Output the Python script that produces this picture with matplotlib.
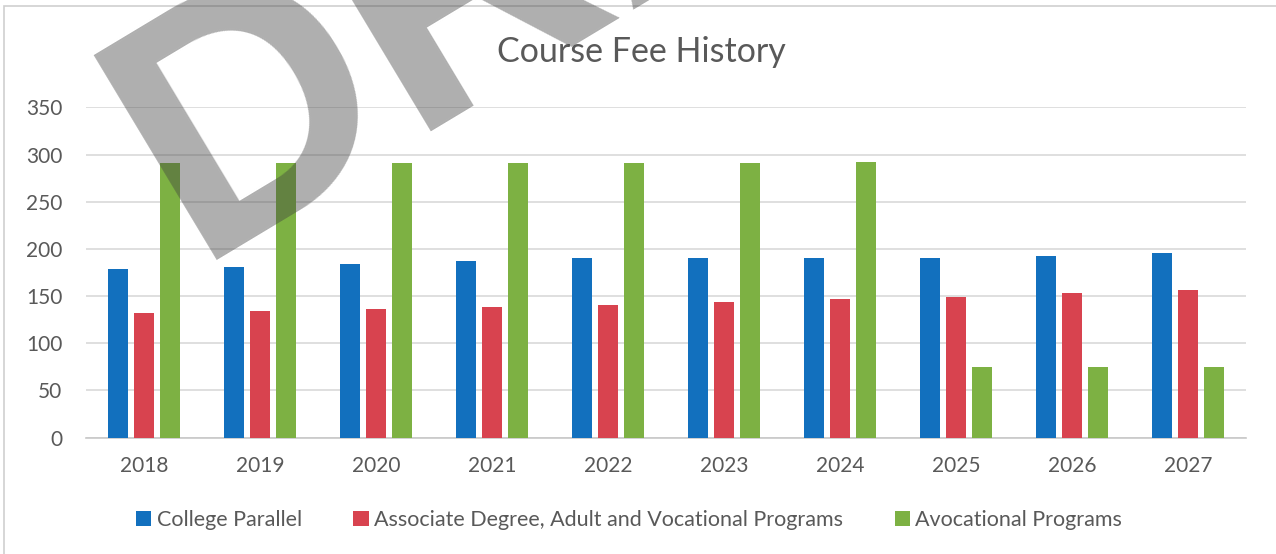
import numpy as np
import matplotlib
matplotlib.use('Agg')
import matplotlib.pyplot as plt
from matplotlib.patches import Patch, Rectangle

plt.rcParams['font.family'] = ['Lato', 'DejaVu Sans']

years = ['2018', '2019', '2020', '2021', '2022', '2023', '2024', '2025', '2026', '2027']
college_parallel = [179, 181, 184, 187, 190, 190, 190, 190, 193, 196]
associate_adult_voc = [132, 134, 136, 139, 141, 144, 147, 149, 153, 157]
avocational = [291, 291, 291, 291, 291, 291, 292, 75, 75, 75]

series_names = ['College Parallel',
                'Associate Degree, Adult and Vocational Programs',
                'Avocational Programs']
colors = ['#1270BE', '#D8434F', '#7DB143']
text_grey = '#595959'

fig = plt.figure(figsize=(12.76, 5.54), dpi=100)
ax = fig.add_axes([0.0674, 0.21, 0.9091, 0.596])

x = np.arange(len(years))
width = 0.18
step = 0.224
for i, (vals, col) in enumerate(zip([college_parallel, associate_adult_voc, avocational], colors)):
    ax.bar(x + (i - 1) * step, vals, width, color=col, zorder=3)

ax.set_xlim(-0.5, len(years) - 0.5)
ax.set_ylim(0, 350)
ax.set_yticks(range(0, 351, 50))
ax.set_xticks(x)
ax.set_xticklabels(years)
ax.yaxis.grid(True, color='#d9d9d9', linewidth=1.2, zorder=0)
ax.set_axisbelow(True)
for s in ['top', 'right', 'left']:
    ax.spines[s].set_visible(False)
ax.spines['bottom'].set_color('#c8c8c8')
ax.spines['bottom'].set_linewidth(1.2)
ax.tick_params(axis='both', length=0, labelsize=15, colors=text_grey)
ax.tick_params(axis='y', pad=17)
ax.tick_params(axis='x', pad=13)

fig.text(0.503, 0.907, 'Course Fee History', ha='center', va='center',
         fontsize=24.5, color=text_grey)

handles = [Patch(facecolor=c, edgecolor='none') for c in colors]
fig.legend(handles, series_names, loc='center', bbox_to_anchor=(0.493, 0.061),
           ncol=3, frameon=False, fontsize=15.5, labelcolor=text_grey,
           handlelength=0.7, handleheight=0.7, handletextpad=0.25,
           columnspacing=2.4)

# chart frame
fig.patches.append(Rectangle((0.003, -0.1), 1.1, 1.09, transform=fig.transFigure,
                             fill=False, edgecolor='#cfcfcf', linewidth=1.2))

# DRAFT stamp (scanned watermark)
fig.text(0.152, 0.532, 'DRAFT', rotation=31, rotation_mode='anchor',
         ha='left', va='baseline', fontsize=250, fontweight='bold',
         color='#404040', alpha=0.42, family='Liberation Sans', zorder=10)

fig.savefig('out.png', dpi=100)
